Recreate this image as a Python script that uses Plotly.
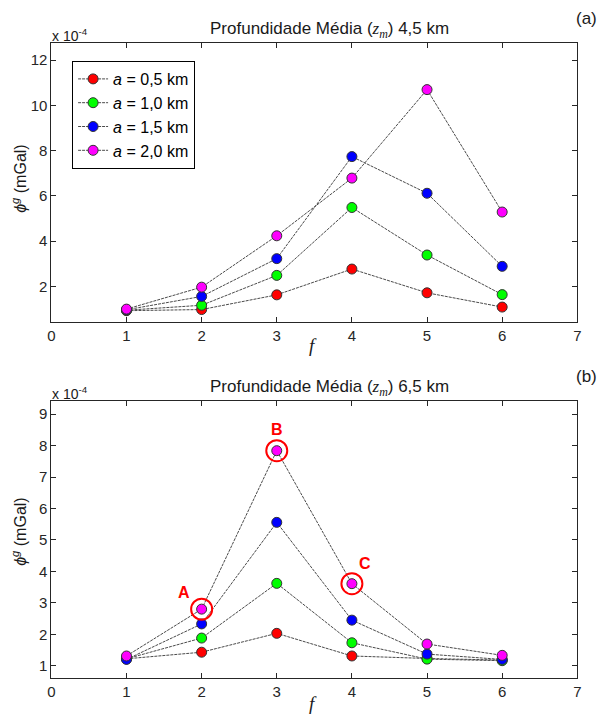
import plotly.graph_objects as go

f_vals = [1, 2, 3, 4, 5, 6]
labels = ["<i>a</i> = 0,5 km", "<i>a</i> = 1,0 km", "<i>a</i> = 1,5 km", "<i>a</i> = 2,0 km"]
colors = ["#ff0000", "#00ff00", "#0000ff", "#ff00ff"]

# panel (a): zm = 4,5 km  (x 1e-4 mGal)
a_05 = [0.93, 0.98, 1.63, 2.77, 1.72, 1.09]
a_10 = [0.95, 1.17, 2.49, 5.49, 3.39, 1.64]
a_15 = [0.97, 1.56, 3.23, 7.74, 6.12, 2.89]
a_20 = [1.00, 1.97, 4.24, 6.79, 10.70, 5.29]

# panel (b): zm = 6,5 km  (x 1e-4 mGal)
b_05 = [1.22, 1.43, 2.03, 1.31, 1.23, 1.18]
b_10 = [1.22, 1.88, 3.62, 1.73, 1.21, 1.16]
b_15 = [1.20, 2.33, 5.56, 2.45, 1.37, 1.20]
b_20 = [1.31, 2.80, 7.84, 3.61, 1.69, 1.33]

# highlighted points in panel (b)
hl_f = [2, 3, 4]
hl_v = [2.80, 7.84, 3.61]
hl_txt = ["A", "B", "C"]

FONT = "Liberation Sans, Arial, sans-serif"
SERIF = "Liberation Serif, Times New Roman, serif"
fig = go.Figure()

def add_panel(series, xa, ya, show):
    for s, c, lab in zip(series, colors, labels):
        fig.add_trace(go.Scatter(
            x=f_vals, y=s, mode="lines+markers", name=lab, showlegend=show,
            xaxis=xa, yaxis=ya,
            line=dict(color="#4a4a4a", width=1, dash="3px,1px"),
            marker=dict(color=c, size=10, line=dict(color="#333333", width=1)),
        ))

add_panel([a_05, a_10, a_15, a_20], "x", "y", True)
add_panel([b_05, b_10, b_15, b_20], "x2", "y2", False)

fig.add_trace(go.Scatter(
    x=hl_f, y=hl_v, mode="markers", showlegend=False, xaxis="x2", yaxis="y2",
    marker=dict(symbol="circle-open", size=21, color="#ff0000", line=dict(color="#ff0000", width=2)),
))

xd = [48 / 604, 581 / 604]
ax_common = dict(showgrid=False, zeroline=False, showline=True, linecolor="#262626", linewidth=1,
                 mirror="ticks", ticks="inside", ticklen=5, tickcolor="#262626",
                 tickfont=dict(family=FONT, size=15, color="#262626"))

fig.update_layout(
    width=604, height=714, margin=dict(l=0, r=0, t=0, b=0),
    paper_bgcolor="white", plot_bgcolor="white",
    font=dict(family=FONT, color="#1a1a1a"),
    xaxis=dict(domain=xd, range=[0, 7], tickvals=[0, 1, 2, 3, 4, 5, 6, 7], anchor="y", **ax_common),
    yaxis=dict(domain=[1 - 322 / 714, 1 - 43 / 714], range=[0.43, 12.76], tickvals=[2, 4, 6, 8, 10, 12],
               anchor="x", **ax_common),
    xaxis2=dict(domain=xd, range=[0, 7], tickvals=[0, 1, 2, 3, 4, 5, 6, 7], anchor="y2", **ax_common),
    yaxis2=dict(domain=[1 - 678.3 / 714, 1 - 400.7 / 714], range=[0.6, 9.43],
                tickvals=[1, 2, 3, 4, 5, 6, 7, 8, 9], anchor="x2", **ax_common),
    legend=dict(x=69 / 604, y=1 - 61 / 714, xanchor="left", yanchor="top",
                bordercolor="#000000", borderwidth=1, bgcolor="white", itemwidth=30,
                font=dict(family=FONT, size=16, color="#000000"), tracegroupgap=0),
)

def pa(text, x, y, size=14, color="#1a1a1a", xanchor="center", yanchor="middle", angle=0, family=FONT):
    fig.add_annotation(text=text, x=x / 604, y=1 - y / 714, xref="paper", yref="paper",
                       showarrow=False, xanchor=xanchor, yanchor=yanchor, textangle=angle,
                       font=dict(family=family, size=size, color=color))

zm = "<span style='font-family:Liberation Serif'><i>z<sub>m</sub></i></span>"
pa("Profundidade Média (" + zm + ") 4,5 km", 330, 30, size=17)
pa("Profundidade Média (" + zm + ") 6,5 km", 330, 388, size=17)
pa("(a)", 590, 18, size=17)
pa("(b)", 590, 376, size=17)
pa("x 10<sup>-4</sup>", 47, 35, size=14, xanchor="left")
pa("x 10<sup>-4</sup>", 47, 393, size=14, xanchor="left")
pa("<i>ϕ</i><sup><i>g</i></sup> (mGal)", 15, 179, size=16, angle=-90)
pa("<i>ϕ</i><sup><i>g</i></sup> (mGal)", 15, 532, size=16, angle=-90)
pa("<i>f</i>", 313, 345, size=19, family=SERIF)
pa("<i>f</i>", 313, 703, size=19, family=SERIF)

for fx, fv, t, dx, dy in zip(hl_f, hl_v, hl_txt, [-18, 0, 13], [-17, -21, -20]):
    fig.add_annotation(text="<b>" + t + "</b>", x=fx, y=fv, xref="x2", yref="y2", showarrow=False,
                       xshift=dx, yshift=-dy, font=dict(family=FONT, size=16, color="#ff0000"))

fig.write_html("out.html", config={"displayModeBar": False},
               post_script="document.body.style.margin='0';")
